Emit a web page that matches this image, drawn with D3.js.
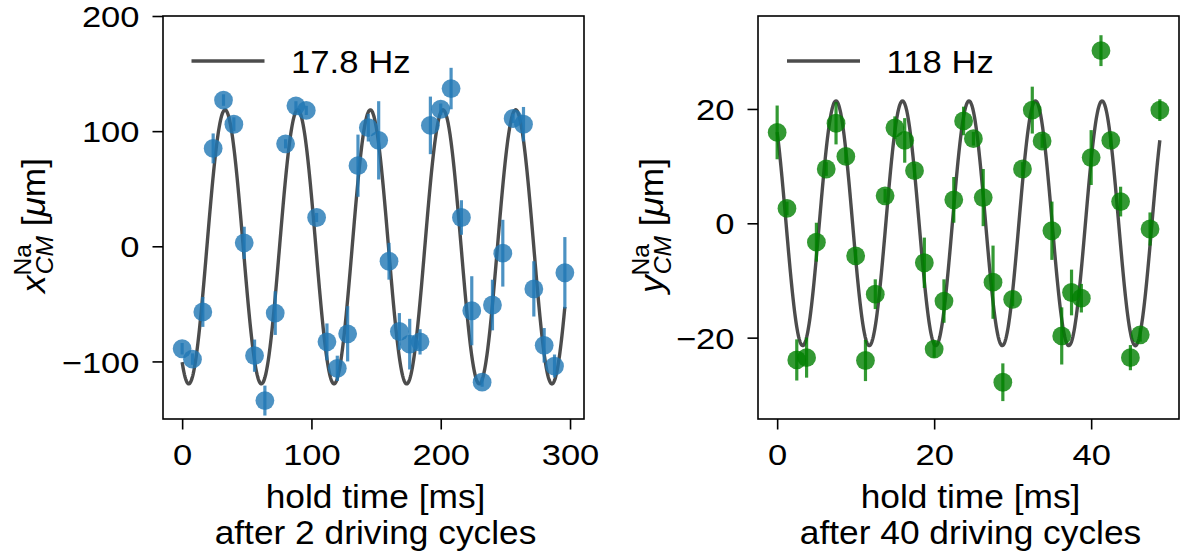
<!DOCTYPE html>
<html>
<head>
<meta charset="utf-8">
<script src="https://cdn.jsdelivr.net/npm/d3@7"></script>
<style>
  html, body { margin: 0; padding: 0; background: #fff; }
  svg { display: block; }
  text { font-family: "Liberation Sans", Arial, Helvetica, sans-serif; fill: #000; }
</style>
</head>
<body>
<svg id="chart" width="1180" height="557"></svg>
<script>
// ---------------- data ----------------
// left panel: x_CM after 2 driving cycles
const leftTime = [0, 8, 16, 24, 32, 40, 48, 56, 64, 72, 80, 88, 96, 104, 112, 120, 128, 136, 144, 152,
                  160, 168, 176, 184, 192, 200, 208, 216, 224, 232, 240, 248, 256, 264, 272, 280, 288, 296];
const leftValue = [-89, -98, -57, 85, 127, 106, 3, -95, -134, -58, 89, 122, 118, 25, -83, -106, -76, 70, 103, 92,
                   -13, -74, -85, -83, 105, 119, 137, 25, -56, -118, -51, -6, 111, 106, -37, -86, -104, -23];
const leftError = [5, 5, 13, 13, 5, 6, 14, 14, 13, 19, 4, 4, 4, 4, 16, 11, 24, 27, 12, 34,
                   16, 16, 22, 11, 25, 5, 18, 15, 30, 4, 22, 29, 4, 15, 24, 15, 10, 31];
// fit: [frequency Hz, amplitude, time of maximum (ms), offset]
const leftFit = [17.8, 119, 33.2, -0.5];
const leftXTicks = [0, 100, 200, 300];
const leftYTicks = [-100, 0, 100, 200];

// right panel: y_CM after 40 driving cycles
const rightTime = [0, 1.25, 2.5, 3.75, 5, 6.25, 7.5, 8.75, 10, 11.25, 12.5, 13.75, 15, 16.25, 17.5, 18.75,
                   20, 21.25, 22.5, 23.75, 25, 26.25, 27.5, 28.75, 30, 31.25, 32.5, 33.75, 35, 36.25, 37.5,
                   38.75, 40, 41.25, 42.5, 43.75, 45, 46.25, 47.5, 48.75];
const rightValue = [15.9, 2.6, -23.9, -23.5, -3.3, 9.5, 17.5, 11.7, -5.7, -24, -12.4, 4.8, 16.7, 14.5, 9.2, -6.9,
                    -22, -13.6, 4.1, 17.9, 14.8, 4.5, -10.3, -27.8, -13.3, 9.5, 19.8, 14.4, -1.3, -19.7, -12.1,
                    -13.1, 11.5, 30.2, 14.5, 3.8, -23.5, -19.5, -1.0, 19.8];
const rightError = [4.7, 1.2, 3.6, 3.5, 3.4, 1.2, 3.7, 1.2, 1.2, 3.6, 2.6, 1.2, 2, 3.9, 1.2, 4.4,
                    1.5, 3.8, 4, 2.5, 1.2, 5, 6.4, 3.3, 1.2, 1.2, 4.1, 1.2, 5.1, 5, 4,
                    2.5, 4.8, 2.7, 1.2, 2.6, 2.2, 1.2, 2.9, 1.9];
const rightFit = [118, 21.4, 7.49, 0];
const rightXTicks = [0, 20, 40];
const rightYTicks = [-20, 0, 20];

const legendLabels = ["17.8 Hz", "118 Hz"];
const xLabels = ["hold time [ms]", "hold time [ms]"];
const subLabels = ["after 2 driving cycles", "after 40 driving cycles"];
const yLabelVars = ["x", "y"];

// ---------------- drawing ----------------
const svg = d3.select("#chart");
const TICK_FS = 29.5, TICK_SX = 1.17;
const LAB_FS = 33, LAB_SX = 1.07;
const LEG_FS = 30.7, LEG_SX = 1.13;

function stretchedText(g, x, y, str, size, sx, anchor) {
  return g.append("text")
    .attr("transform", `translate(${x},${y}) scale(${sx},1)`)
    .attr("text-anchor", anchor || "start")
    .attr("font-size", size)
    .text(str);
}

function panel(cfg) {
  const g = svg.append("g");
  const x = d3.scaleLinear().domain(cfg.xDomain).range([cfg.left, cfg.right]);
  const y = d3.scaleLinear().domain(cfg.yDomain).range([cfg.bottom, cfg.top]);

  // fit curve
  const [f, A, tmax, off] = cfg.fit;
  const t0 = d3.min(cfg.time), t1 = d3.max(cfg.time);
  const ts = d3.range(0, 801).map(i => t0 + (t1 - t0) * i / 800);
  const curve = ts.map(t => [t, off + A * Math.cos(2 * Math.PI * f * (t - tmax) / 1000)]);
  g.append("path")
    .datum(curve)
    .attr("d", d3.line().x(d => x(d[0])).y(d => y(d[1])))
    .attr("fill", "none")
    .attr("stroke", "#000")
    .attr("stroke-opacity", 0.7)
    .attr("stroke-width", 3.4);

  // data points with error bars
  const pts = cfg.time.map((t, i) => ({ t, v: cfg.value[i], e: cfg.err[i] }));
  const pg = g.append("g");
  pts.forEach(p => {
    pg.append("line")
      .attr("x1", x(p.t)).attr("x2", x(p.t))
      .attr("y1", y(p.v - p.e)).attr("y2", y(p.v + p.e))
      .attr("stroke", cfg.color).attr("stroke-opacity", 0.8)
      .attr("stroke-width", 3.2);
    pg.append("circle")
      .attr("cx", x(p.t)).attr("cy", y(p.v))
      .attr("r", 9.4)
      .attr("fill", cfg.color).attr("fill-opacity", 0.8);
  });

  // frame
  g.append("rect")
    .attr("x", cfg.left).attr("y", cfg.top)
    .attr("width", cfg.right - cfg.left).attr("height", cfg.bottom - cfg.top)
    .attr("fill", "none").attr("stroke", "#000").attr("stroke-width", 1.6);

  // axes
  const xAxis = d3.axisBottom(x).tickValues(cfg.xTicks).tickSize(10.5).tickFormat(d3.format("d"));
  const gx = g.append("g").attr("transform", `translate(0,${cfg.bottom})`).call(xAxis);
  gx.select(".domain").remove();
  gx.selectAll(".tick line").attr("stroke", "#000").attr("stroke-width", 1.6);
  gx.selectAll(".tick text")
    .attr("y", null).attr("dy", null)
    .attr("transform", `translate(0,46) scale(${TICK_SX},1)`)
    .attr("font-size", TICK_FS).attr("font-family", "Liberation Sans, Arial, sans-serif").attr("fill", "#000");

  const yAxis = d3.axisLeft(y).tickValues(cfg.yTicks).tickSize(10.5).tickFormat(d3.format("d"));
  const gy = g.append("g").attr("transform", `translate(${cfg.left},0)`).call(yAxis);
  gy.select(".domain").remove();
  gy.selectAll(".tick line").attr("stroke", "#000").attr("stroke-width", 1.6);
  gy.selectAll(".tick text")
    .attr("x", null).attr("dy", "0.36em")
    .attr("transform", `translate(-23.5,0) scale(${TICK_SX},1)`)
    .attr("font-size", TICK_FS).attr("font-family", "Liberation Sans, Arial, sans-serif").attr("fill", "#000");

  // legend
  g.append("line")
    .attr("x1", cfg.legendX).attr("x2", cfg.legendX + 73)
    .attr("y1", 61).attr("y2", 61)
    .attr("stroke", "#000").attr("stroke-opacity", 0.7).attr("stroke-width", 3.4);
  stretchedText(g, cfg.legendX + 99.5, 72.7, cfg.legend, LEG_FS, LEG_SX, "start");

  // x labels
  const cx = (cfg.left + cfg.right) / 2 + 2;
  stretchedText(g, cx, 508, cfg.xLabel, LAB_FS, LAB_SX, "middle");
  stretchedText(g, cx, 544, cfg.subLabel, LAB_FS, LAB_SX, "middle");

  // y label (rotated, with super/subscript)
  const lg = g.append("g").attr("transform", `translate(${cfg.yLabelX},${(cfg.top + cfg.bottom) / 2 + 7}) rotate(-90) scale(${LAB_SX},1)`);
  const t = lg.append("text").attr("x", 0).attr("y", 0).attr("font-size", LAB_FS);
  t.append("tspan").attr("font-style", "italic").text(cfg.yVar);
  const na = t.append("tspan").attr("font-size", 23).attr("dy", -14).text("Na");
  const naW = na.node().getComputedTextLength();
  t.append("tspan").attr("font-size", 23).attr("font-style", "italic").attr("dx", -naW + 1).attr("dy", 22).text("CM");
  t.append("tspan").attr("dy", -8).text(" [");
  t.append("tspan").attr("font-style", "italic").text("\u03bc");
  t.append("tspan").text("m]");
  const bb = t.node().getBBox();
  t.attr("x", -bb.width / 2);
}

panel({
  left: 163, right: 584, top: 16, bottom: 419,
  xDomain: [-14.8, 310.8], yDomain: [-150, 200],
  time: leftTime, value: leftValue, err: leftError, fit: leftFit,
  color: "#1f77b4", xTicks: leftXTicks, yTicks: leftYTicks,
  legend: legendLabels[0], legendX: 191.5,
  xLabel: xLabels[0], subLabel: subLabels[0],
  yVar: yLabelVars[0], yLabelX: 45
});

panel({
  left: 758, right: 1179, top: 16, bottom: 419,
  xDomain: [-2.44, 51.19], yDomain: [-34.23, 36.26],
  time: rightTime, value: rightValue, err: rightError, fit: rightFit,
  color: "#008000", xTicks: rightXTicks, yTicks: rightYTicks,
  legend: legendLabels[1], legendX: 787,
  xLabel: xLabels[1], subLabel: subLabels[1],
  yVar: yLabelVars[1], yLabelX: 663
});
</script>
</body>
</html>
